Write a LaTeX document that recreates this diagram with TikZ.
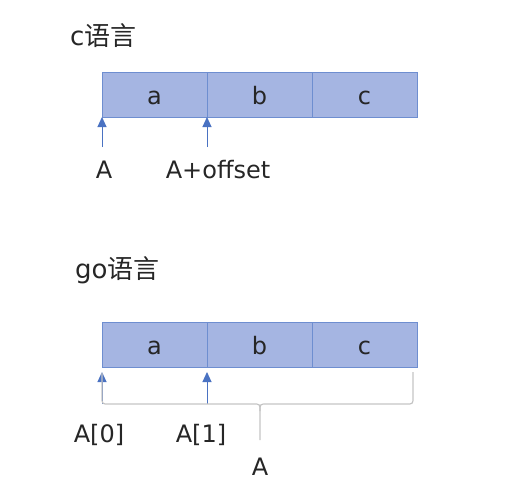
\documentclass[tikz,border=0pt]{standalone}
\usepackage{fontspec}
\setmainfont{DejaVu Sans}
\newfontfamily\cjk{Noto Sans CJK SC}
\usetikzlibrary{positioning,arrows.meta}
\definecolor{cellfill}{HTML}{A5B5E2}
\definecolor{celledge}{HTML}{6E8ED0}
\definecolor{arrblue}{HTML}{4A72C2}
\definecolor{bracegray}{HTML}{C4C4C4}
\definecolor{ink}{HTML}{262626}
\tikzset{
  cell/.style={draw=celledge, fill=cellfill, line width=1pt, minimum width=105pt,
    minimum height=45pt, inner sep=0pt, outer sep=0pt, text=ink,
    text height=19pt, text depth=0pt, font=\fontsize{24}{28}\selectfont},
  lbl/.style={anchor=base, inner sep=0pt, text=ink, font=\fontsize{24}{28}\selectfont},
  ttl/.style={anchor=base west, inner sep=0pt, text=ink, font=\fontsize{26}{30}\selectfont},
  ptr/.style={arrblue, line width=1pt, -{Triangle[width=9pt,length=10pt]}},
}

\begin{document}
\begin{tikzpicture}[x=1pt,y=-1pt]
      \useasboundingbox (0,0) rectangle (522,480);
      % c
      \node[ttl] (ctitle) at (70,45) {c{\cjk 语言}};
      \node[cell] (ca) at (154.5,94.5) {a};
      \node[cell, right=0pt of ca] (cb) {b};
      \node[cell, right=0pt of cb] (cc) {c};
      \coordinate (cp0) at (102,147);
      \coordinate (cp1) at (207,147);
      \draw[ptr] (cp0) -- (ca.south west);
      \draw[ptr] (cp1) -- (cb.south west);
      \node[lbl] (cA) at (104,178) {A};
      \node[lbl] (cAoff) at (218,178) {A+offset};
      % go
      \node[ttl] (gtitle) at (75,278) {go{\cjk 语言}};
      \node[cell] (ga) at (154.5,344.5) {a};
      \node[cell, right=0pt of ga] (gb) {b};
      \node[cell, right=0pt of gb] (gc) {c};
      \coordinate (gp0) at (102,404);
      \coordinate (gp1) at (207,404);
      \draw[ptr, shorten >=5pt] (gp0) -- (ga.south west);
      \draw[ptr, shorten >=5pt] (gp1) -- (gb.south west);
      % brace
      \draw[bracegray, line width=1.2pt] (102,373) -- (102,397) .. controls (102,404) .. (109,404)
        -- (253,404) .. controls (260,404) .. (260,411) -- (260,440);
      \draw[bracegray, line width=1.2pt] (260,411) .. controls (260,404) .. (267,404)
        -- (406,404) .. controls (413,404) .. (413,397) -- (413,372);
      \node[lbl] (gA0) at (99,442) {A[0]};
      \node[lbl] (gA1) at (201,442) {A[1]};
      \node[lbl] (gA) at (260,475) {A};
    \end{tikzpicture}
\end{document}
